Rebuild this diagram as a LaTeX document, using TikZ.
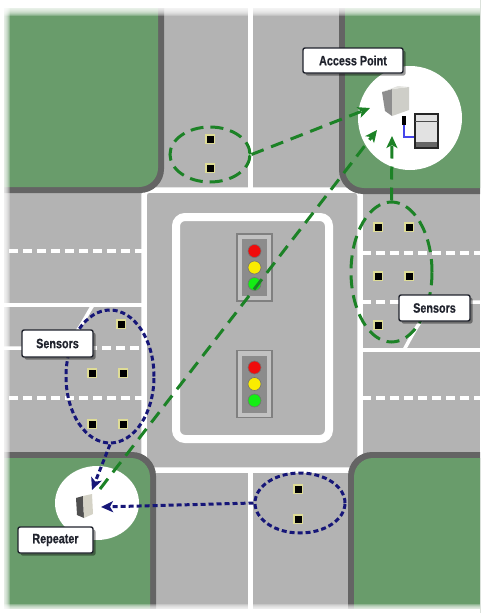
\documentclass[tikz,border=0pt]{standalone}
\usepackage{fontspec}
\usepackage{graphicx}
\setmainfont{Liberation Sans}
\newfontfamily\tagfont{Liberation Sans}[BoldFeatures={FakeBold=0.7}]
\usetikzlibrary{shapes.geometric,arrows.meta,shadows}

\definecolor{road}{RGB}{179,179,179}
\definecolor{grass}{RGB}{105,156,107}
\definecolor{curb}{RGB}{100,100,100}
\definecolor{linkgreen}{RGB}{28,130,38}
\definecolor{linkblue}{RGB}{22,22,120}
\definecolor{sensorrim}{RGB}{222,220,150}
\definecolor{labelink}{RGB}{32,35,45}
\definecolor{wire}{RGB}{70,70,235}
\definecolor{lampred}{RGB}{240,12,12}
\definecolor{lampamber}{RGB}{250,236,0}
\definecolor{lampgreen}{RGB}{20,238,20}
\definecolor{caseside}{RGB}{142,142,142}
\definecolor{casefront}{RGB}{206,206,200}
\definecolor{casetop}{RGB}{228,228,224}
\definecolor{rpside}{RGB}{80,80,80}
\definecolor{rpfront}{RGB}{212,210,198}
\definecolor{pcbody}{RGB}{226,226,226}

\tikzset{
  lane/.style={white, line width=3.5pt},
  lanedash/.style={lane, dash pattern=on 9pt off 5pt},
  sensor/.style={rectangle, fill=black, draw=sensorrim, line width=1.5pt,
    minimum size=8.5pt, inner sep=0pt},
  greengroup/.style={ellipse, draw=linkgreen, line width=3pt,
    dash pattern=on 13pt off 7pt, inner sep=0pt},
  bluegroup/.style={ellipse, draw=linkblue, line width=3pt,
    dash pattern=on 5pt off 3pt, inner sep=0pt},
  greenlink/.style={draw=linkgreen, line width=3pt, dash pattern=on 13pt off 8pt,
    -{Stealth[length=12pt,width=11pt,inset=3pt]}},
  bluelink/.style={draw=linkblue, line width=3pt, dash pattern=on 5pt off 3pt,
    -{Stealth[length=12pt,width=11pt,inset=3pt]}},
  tag/.style={rectangle, rounded corners=2pt, draw=labelink, line width=1.4pt,
    fill=white, text=labelink, font=\tagfont\fontsize{13.5}{14}\selectfont\bfseries,
    inner sep=0pt,
    drop shadow={shadow xshift=2.5pt, shadow yshift=-2.5pt, fill=black, opacity=0.4}},
  lamp/.style={circle, minimum size=13pt, inner sep=0pt, line width=0.6pt, draw=black!55},
  zone/.style={ellipse, fill=white, inner sep=0pt},
  signal/.pic={
    \node[draw=black!50, fill=black!24, line width=1.2pt, minimum width=35pt,
      minimum height=67pt, inner sep=0pt] (-frame) at (0,0) {};
    \node[fill=black!45, minimum width=25pt, minimum height=57pt, inner sep=0pt]
      (-back) at (0,0) {};
    \node[lamp, fill=lampred] (-red) at (0,-16.5) {};
    \node[lamp, fill=lampamber] (-amber) at (0,0) {};
    \node[lamp, fill=lampgreen] (-green) at (0,16.5) {};
  },
}

\begin{document}
\begin{tikzpicture}[x=1pt,y=-1pt]
\useasboundingbox (0,0) rectangle (480,613);
\clip (0,0) rectangle (480,613);

% pavement
\fill[road] (0,0) rectangle (480,613);

% lane markings, west approach
\draw[lanedash] (-5,251) -- (143,251);
\draw[lane] (-5,305) -- (143,305);
\draw[lane] (93,305) .. controls (82,322) and (72,348) .. (52,348) -- (-5,348);
\draw[lanedash] (60,348) -- (143,348);
\draw[lanedash] (-5,398) -- (143,398);

% lane markings, east approach
\draw[lanedash] (362,253) -- (485,253);
\draw[lanedash] (362,302) -- (440,302);
\draw[lane] (485,302) -- (448,302) .. controls (428,302) and (415,330) .. (404,350);
\draw[lane] (362,350) -- (485,350);
\draw[lanedash] (362,398) -- (485,398);

% centre lines of the north and south approaches
\draw[lane, line width=5pt] (250,-10) -- (250,189);
\draw[lane, line width=5pt] (250,470) -- (250,620);

% intersection outline
\draw[white, line width=5.5pt, rounded corners=5pt] (144,190) rectangle (360,470);

% corner blocks with their kerbs
\fill[curb, rounded corners=24pt] (-30,-30) rectangle (164,193);
\fill[grass, rounded corners=19pt] (-30,-30) rectangle (158,187);
\fill[curb, rounded corners=24pt] (339,-30) rectangle (520,194);
\fill[grass, rounded corners=19pt] (345,-30) rectangle (520,188);
\fill[curb, rounded corners=24pt] (-30,452) rectangle (156,640);
\fill[grass, rounded corners=19pt] (-30,458) rectangle (150,640);
\fill[curb, rounded corners=24pt] (348,452) rectangle (520,640);
\fill[grass, rounded corners=19pt] (354,458) rectangle (520,640);

% central island
\draw[white, line width=8pt, rounded corners=9pt] (176,217) rectangle (329,439);

% signal heads
\pic (sigA) at (254.5,267.5) {signal};
\pic (sigB) at (254.5,384) {signal};

% coverage zones of the access point and the repeater
\node[zone, minimum size=104pt] (ap) at (410,118) {};
\node[zone, minimum width=84pt, minimum height=74pt] (rp) at (97,503) {};

% access point unit
\fill[caseside] (382,92) -- (392,89) -- (392,116) -- (385,111) -- cycle;
\fill[casefront] (392,89) -- (409,87) -- (409,110) -- (392,116) -- cycle;
\fill[casetop] (382,92) -- (398,86) -- (409,87) -- (392,89) -- cycle;
\fill[black] (402,116) rectangle (406,125);
\draw[wire, line width=1.3pt] (404,125) |- (415,137);
% workstation
\draw[black!85, line width=1.3pt, fill=pcbody] (415,114) rectangle (438,148);
\draw[black!70, line width=1pt] (415,121) -- (438,121);
\fill[black!60] (416,142) rectangle (437,147);

% repeater unit
\fill[rpside] (76,498) -- (83,496) -- (84,518) -- (77,515) -- cycle;
\fill[rpfront] (83,496) -- (92,494) -- (93,514) -- (84,518) -- cycle;

% sensor groups
\node[greengroup, minimum width=80pt, minimum height=55pt] (north) at (210,154.5) {};
\node[greengroup, minimum width=81pt, minimum height=140pt] (east) at (391.5,272) {};
\node[bluegroup, minimum width=88pt, minimum height=133pt] (west) at (110,376.5) {};
\node[bluegroup, minimum width=90pt, minimum height=60pt] (south) at (300,503) {};

% detector loops
\node[sensor] (n1) at (210,139) {};
\node[sensor] (n2) at (210,168) {};
\node[sensor] (e1) at (378,227) {};
\node[sensor] (e2) at (409,227) {};
\node[sensor] (e3) at (378,276) {};
\node[sensor] (e4) at (409,276) {};
\node[sensor] (e5) at (378,325) {};
\node[sensor] (w1) at (121,324) {};
\node[sensor] (w2) at (92,373) {};
\node[sensor] (w3) at (123,373) {};
\node[sensor] (w4) at (92,424) {};
\node[sensor] (w5) at (123,424) {};
\node[sensor] (s1) at (298,489) {};
\node[sensor] (s2) at (298,519) {};

% link end points
\coordinate (ap-in1) at (370,108);
\coordinate (ap-in2) at (377,130);
\coordinate (ap-in3) at (392,136);
\coordinate (rp-out) at (100,489);
\coordinate (rp-in1) at (92,490);
\coordinate (rp-in2) at (101,507);

% radio links
\draw[greenlink] (north.east) -- (ap-in1);
\draw[greenlink] (rp-out) -- (ap-in2);
\draw[greenlink] (east.north) -- (ap-in3);
\draw[bluelink] (west.south) -- (rp-in1);
\draw[bluelink] (south.west) -- (rp-in2);

% captions
\node[tag, minimum width=100pt, minimum height=25pt] (ap-tag) at (353,60.5) {\scalebox{0.8}[1]{Access Point}};
\node[tag, minimum width=71pt, minimum height=26pt] (east-tag) at (434.5,308) {\scalebox{0.8}[1]{Sensors}};
\node[tag, minimum width=71pt, minimum height=27pt] (west-tag) at (57.5,343.5) {\scalebox{0.8}[1]{Sensors}};
\node[tag, minimum width=75pt, minimum height=26pt] (rp-tag) at (55.5,540) {\scalebox{0.8}[1]{Repeater}};

% soft white margins
\fill[white] (0,0) rectangle (480,8);
\foreach \i in {1,...,8} \fill[white, opacity=0.22] (0,8) rectangle (480,8+\i);
\fill[white] (0,0) rectangle (4,613);
\foreach \i in {1,...,6} \fill[white, opacity=0.25] (4,0) rectangle (4+\i,613);
\fill[white] (0,609) rectangle (480,613);
\foreach \i in {1,...,5} \fill[white, opacity=0.25] (0,609-\i) rectangle (480,609);
\end{tikzpicture}
\end{document}
